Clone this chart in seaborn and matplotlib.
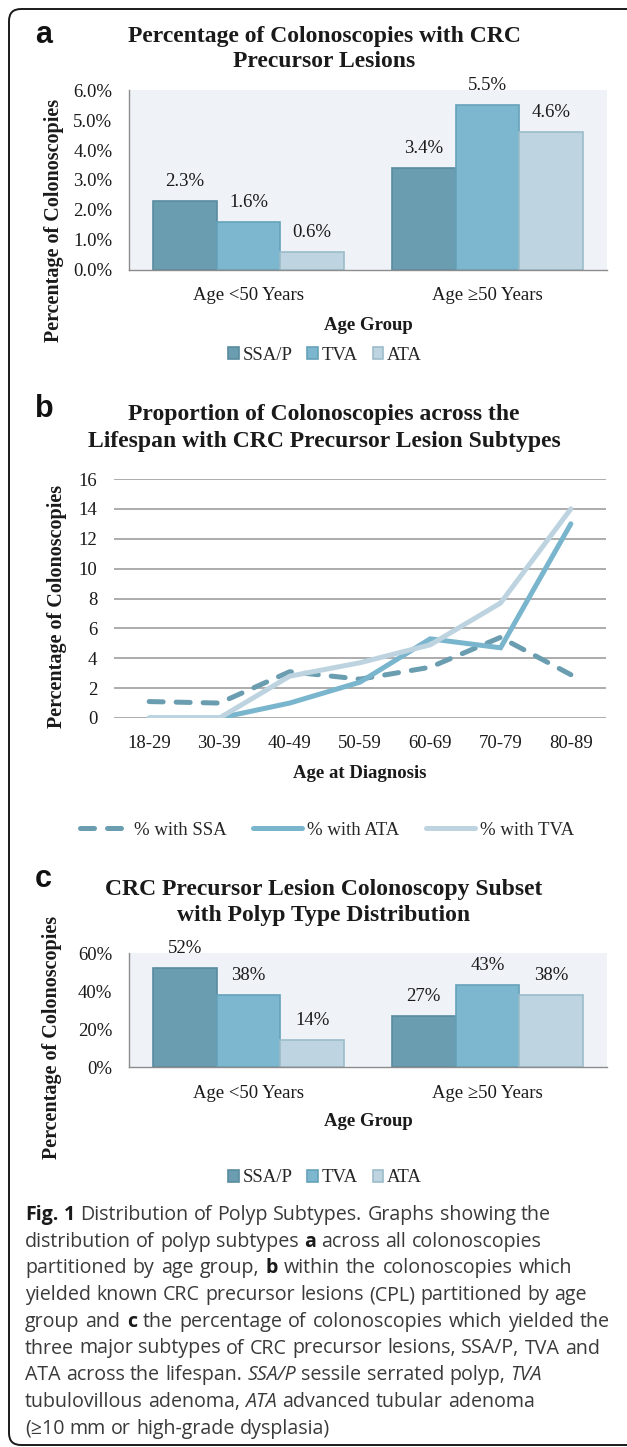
import matplotlib
matplotlib.use("Agg")
import matplotlib.pyplot as plt
from matplotlib.patches import FancyBboxPatch, Patch
from matplotlib.lines import Line2D
import seaborn as sns
import pandas as pd

# ---------------- data ----------------
age_groups = ["Age <50 Years", "Age \u226550 Years"]
polyp_types = ["SSA/P", "TVA", "ATA"]
pct_all_ssa = [2.3, 3.4]
pct_all_tva = [1.6, 5.5]
pct_all_ata = [0.6, 4.6]
pct_cpl_ssa = [52, 27]
pct_cpl_tva = [38, 43]
pct_cpl_ata = [14, 38]

age_bins = ["18-29", "30-39", "40-49", "50-59", "60-69", "70-79", "80-89"]
line_series = ["% with SSA", "% with ATA", "% with TVA"]
pct_ssa = [1.1, 1.0, 3.1, 2.6, 3.4, 5.4, 2.9]
pct_ata = [0.0, 0.0, 1.0, 2.4, 5.3, 4.7, 13.0]
pct_tva = [0.0, 0.0, 2.8, 3.7, 4.9, 7.7, 14.0]

title_a = ["Percentage of Colonoscopies with CRC", "Precursor Lesions"]
title_b = ["Proportion of Colonoscopies across the", "Lifespan with CRC Precursor Lesion Subtypes"]
title_c = ["CRC Precursor Lesion Colonoscopy Subset", "with Polyp Type Distribution"]
ylabel_text = "Percentage of Colonoscopies"

caption_lines = [
    "*Fig. *1 Distribution of Polyp Subtypes. Graphs showing the",
    "distribution of polyp subtypes *a across all colonoscopies",
    "partitioned by age group, *b within the colonoscopies which",
    "yielded known CRC precursor lesions (CPL) partitioned by age",
    "group and *c the percentage of colonoscopies which yielded the",
    "three major subtypes of CRC precursor lesions, SSA/P, TVA and",
    "ATA across the lifespan. _SSA/P sessile serrated polyp, _TVA",
    "tubulovillous adenoma, _ATA advanced tubular adenoma",
    "(\u226510 mm or high-grade dysplasia)",
]
caption_right = [550, 536, 572, 584, 610, 592, 536, 524, None]

# ---------------- style ----------------
sns.set_theme(style="white")
SERIF = ["Liberation Serif", "DejaVu Serif"]
SANS = ["Open Sans", "Noto Sans", "DejaVu Sans"]
plt.rcParams["font.family"] = SERIF

FILL = {"SSA/P": "#6A9DB0", "TVA": "#7CB7CF", "ATA": "#BED5E1"}
EDGE = {"SSA/P": "#5A8CA0", "TVA": "#66A2BA", "ATA": "#9CBCCB"}
LINE_COL = {"% with SSA": "#6A9DB0", "% with ATA": "#79B5CD", "% with TVA": "#BDD4E0"}
TXT = "#1a1a1a"
FS = 13.5
YFS = 14.5

W, H, DPI = 627, 1447, 100
fig = plt.figure(figsize=(W / DPI, H / DPI), dpi=DPI)
fig.patch.set_facecolor("white")

bg = fig.add_axes([0, 0, 1, 1])
bg.set_xlim(0, W)
bg.set_ylim(H, 0)
bg.axis("off")

bg.add_patch(FancyBboxPatch((9, 9), W + 40, 1436,
                            boxstyle="round,pad=0,rounding_size=12",
                            fill=False, ec="#1a1a1a", lw=1.4))


def px_axes(l, t, r, b):
    return fig.add_axes([l / W, 1 - b / H, (r - l) / W, (b - t) / H])


def title(lines, baselines, letter, letter_base):
    for s, yb in zip(lines, baselines):
        bg.text(324, yb, s, ha="center", va="baseline", fontsize=17,
                fontweight="bold", color=TXT, family=SERIF)
    bg.text(35, letter_base, letter, ha="left", va="baseline", fontsize=22,
            fontweight="bold", color="#111111", family=["Liberation Sans", "DejaVu Sans"])


def bar_panel(top, bottom, vals, ymax, ystep, tick_fmt, label_fmt, xpad):
    ax = px_axes(129, top, 607, bottom)
    df = pd.DataFrame({
        "group": [g for p in polyp_types for g in age_groups],
        "type": [p for p in polyp_types for g in age_groups],
        "value": [v for p in polyp_types for v in vals[p]],
    })
    sns.barplot(data=df, x="group", y="value", hue="type", order=age_groups,
                hue_order=polyp_types, palette=FILL, saturation=1, width=0.8,
                errorbar=None, legend=False, ax=ax)
    ax.set_facecolor("#EFF2F7")
    ax.set_xlim(-0.5, 1.5)
    ax.set_ylim(0, ymax)
    ticks = list(range(0, ymax + 1, ystep))
    ax.set_yticks(ticks)
    ax.set_yticklabels([tick_fmt(t) for t in ticks])
    for sp in ["top", "right"]:
        ax.spines[sp].set_visible(False)
    for sp in ["left", "bottom"]:
        ax.spines[sp].set_color("#8C8C8C")
        ax.spines[sp].set_linewidth(1.0)
    ax.tick_params(length=0, labelsize=FS, colors=TXT)
    ax.tick_params(axis="y", pad=12)
    ax.tick_params(axis="x", pad=xpad)
    for cont, p in zip(ax.containers, polyp_types):
        for bar in cont:
            bar.set_edgecolor(EDGE[p])
            bar.set_linewidth(1.2)
        ax.bar_label(cont, labels=[label_fmt(v) for v in vals[p]], padding=8,
                     fontsize=FS, color=TXT)
    return ax


def labels(ax, xlabel, xlab_xy, ylab_xy):
    ax.set_xlabel(xlabel, fontsize=FS, fontweight="bold", color=TXT)
    ax.xaxis.set_label_coords(xlab_xy[0], xlab_xy[1], transform=bg.transData)
    ax.xaxis.label.set_va("center")
    ax.set_ylabel(ylabel_text, fontsize=YFS, fontweight="bold", color=TXT)
    ax.yaxis.set_label_coords(ylab_xy[0], ylab_xy[1], transform=bg.transData)
    ax.yaxis.label.set_va("center")


def bar_legend(y):
    handles = [Patch(facecolor=FILL[p], edgecolor=EDGE[p], linewidth=1.2, label=p)
               for p in polyp_types]
    fig.legend(handles=handles, loc="center", bbox_to_anchor=(325 / W, 1 - y / H),
               ncol=3, frameon=False, fontsize=FS, handlelength=0.55,
               handleheight=0.65, handletextpad=0.2, columnspacing=0.8,
               borderaxespad=0, borderpad=0)


# ---------------- panel a ----------------
title(title_a, [42, 67], "a", 43)
vals_a = {"SSA/P": pct_all_ssa, "TVA": pct_all_tva, "ATA": pct_all_ata}
ax_a = bar_panel(90, 270, vals_a, 6, 1, lambda t: f"{t:.1f}%", lambda v: f"{v:.1f}%", 12)
labels(ax_a, "Age Group", (368, 325), (54, 220))
bar_legend(355)

# ---------------- panel b ----------------
title(title_b, [420, 447], "b", 417)
ax_b = px_axes(114, 479, 606, 718)
df_b = pd.DataFrame({
    "age": age_bins * 3,
    "value": pct_ssa + pct_ata + pct_tva,
    "series": [s for s in line_series for _ in age_bins],
})
dash_ssa = (2.8, 2.6)
sns.lineplot(data=df_b, x="age", y="value", hue="series", style="series",
             hue_order=line_series, style_order=line_series, palette=LINE_COL,
             dashes={"% with SSA": dash_ssa, "% with ATA": "", "% with TVA": ""},
             linewidth=3.6, sort=False, legend=False, ax=ax_b)
for ln in ax_b.lines:
    ln.set_dash_capstyle("round")
    ln.set_solid_capstyle("round")
    ln.set_solid_joinstyle("miter")
ax_b.set_xlim(-0.5, 6.5)
ax_b.set_ylim(0, 16)
ax_b.set_yticks(range(0, 17, 2))
ax_b.yaxis.grid(True, color="#A6A6A6", linewidth=1.3)
ax_b.xaxis.grid(False)
ax_b.set_axisbelow(True)
for sp in ax_b.spines.values():
    sp.set_visible(False)
ax_b.set_facecolor("white")
ax_b.tick_params(length=0, labelsize=FS, colors=TXT)
ax_b.tick_params(axis="y", pad=12)
ax_b.tick_params(axis="x", pad=12)
labels(ax_b, "Age at Diagnosis", (360, 773), (57, 606))

line_handles = [
    Line2D([], [], color=LINE_COL["% with SSA"], lw=3.6, dashes=dash_ssa,
           dash_capstyle="round", label="% with SSA"),
    Line2D([], [], color=LINE_COL["% with ATA"], lw=3.6, solid_capstyle="round",
           label="% with ATA"),
    Line2D([], [], color=LINE_COL["% with TVA"], lw=3.6, solid_capstyle="round",
           label="% with TVA"),
]
fig.legend(handles=line_handles, loc="center", bbox_to_anchor=(327 / W, 1 - 830 / H),
           ncol=3, frameon=False, fontsize=FS, handlelength=2.6, handletextpad=0.3,
           columnspacing=1.4, borderaxespad=0, borderpad=0)

# ---------------- panel c ----------------
title(title_c, [895, 921], "c", 887)
vals_c = {"SSA/P": pct_cpl_ssa, "TVA": pct_cpl_tva, "ATA": pct_cpl_ata}
ax_c = bar_panel(953, 1067, vals_c, 60, 20, lambda t: f"{t}%", lambda v: f"{v:.0f}%", 13)
labels(ax_c, "Age Group", (368, 1122), (52, 1037))
bar_legend(1178)

# ---------------- caption ----------------
renderer = fig.canvas.get_renderer()
cap_fs = 14.1
x_left = 25
space_px = 0.27 * cap_fs * DPI / 72
for i, (line, right) in enumerate(zip(caption_lines, caption_right)):
    yb = 1220 + i * 26.7
    objs = []
    for w in line.split(" "):
        weight, style, col = "normal", "normal", "#3a3a3a"
        if w.startswith("*"):
            w = w[1:]
            weight, col = "bold", "#1a1a1a"
        elif w.startswith("_"):
            w = w[1:]
            style = "italic"
        t = bg.text(0, yb, w, fontsize=cap_fs, family=SANS, fontweight=weight,
                    fontstyle=style, color=col, va="baseline", ha="left")
        objs.append(t)
    widths = [t.get_window_extent(renderer).width for t in objs]
    gap = space_px
    if right is not None and len(objs) > 1:
        gap = max(space_px, (right - x_left - sum(widths)) / (len(objs) - 1))
    x = x_left
    for t, wd in zip(objs, widths):
        t.set_x(x)
        x += wd + gap

fig.savefig("out.png", dpi=DPI, facecolor="white")
